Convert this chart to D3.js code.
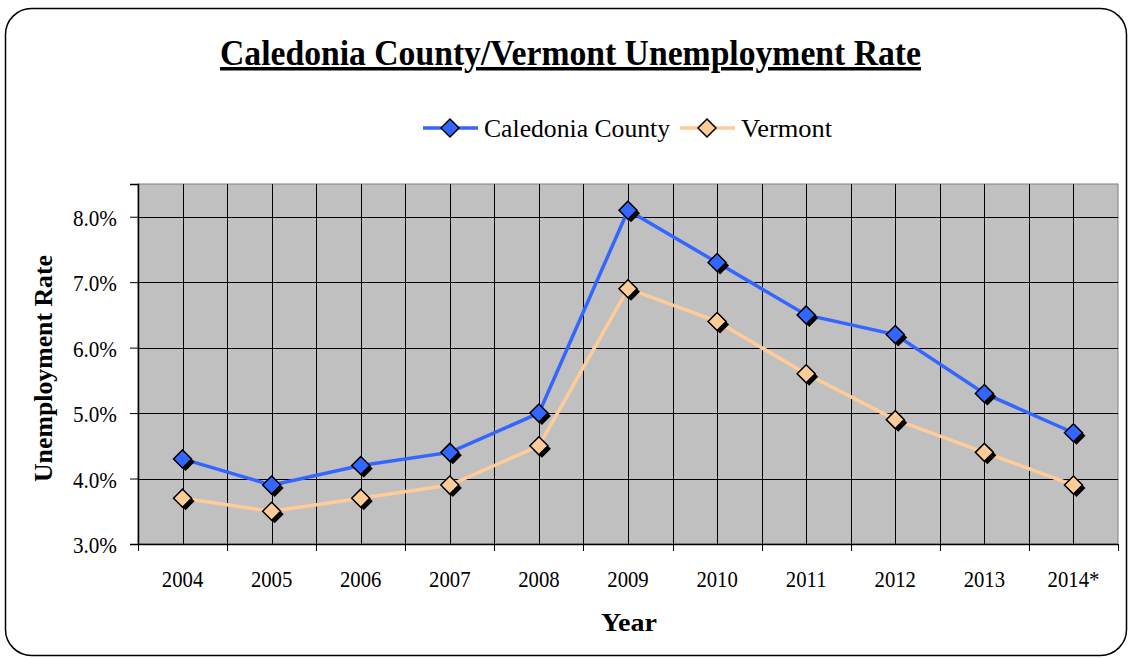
<!DOCTYPE html>
<html><head><meta charset="UTF-8">
<style>
  body { margin:0; background:#fff; }
  svg { display:block; }
  svg text { font-family: 'Liberation Serif', 'DejaVu Serif', serif; fill:#000; }
</style>
</head><body>
<svg id="chart" width="1130" height="659"></svg>
<script src="https://cdn.jsdelivr.net/npm/d3@7/dist/d3.min.js"></script>
<script>
const years = ['2004','2005','2006','2007','2008','2009','2010','2011','2012','2013','2014*'];
const caledonia = [4.3, 3.9, 4.2, 4.4, 5.0, 8.1, 7.3, 6.5, 6.2, 5.3, 4.7];
const vermont = [3.7, 3.5, 3.7, 3.9, 4.5, 6.9, 6.4, 5.6, 4.9, 4.4, 3.9];
const yTicks = [3, 4, 5, 6, 7, 8];

const series = [
  { name: 'Caledonia County', values: caledonia, color: '#3366ff' },
  { name: 'Vermont', values: vermont, color: '#ffcc99' }
];

const svg = d3.select('#chart');
const plot = { left: 138, right: 1118, top: 184, bottom: 544 };

// the source picture is a bit narrow horizontally -> squeeze horizontal text
function condense(sel, k) {
  sel.each(function () {
    const w = this.getComputedTextLength();
    d3.select(this).attr('textLength', w * k).attr('lengthAdjust', 'spacingAndGlyphs');
  });
}

// outer rounded frame
svg.append('rect')
  .attr('x', 5.5).attr('y', 8.5).attr('width', 1121).attr('height', 647)
  .attr('rx', 26).attr('fill', '#fff').attr('stroke', '#000').attr('stroke-width', 1.5);

const x = d3.scaleBand().domain(years).range([plot.left, plot.right]);
const y = d3.scaleLinear().domain([3, 8.5]).range([plot.bottom, plot.top]);
const cx = d => x(d) + x.bandwidth() / 2;

// plot area
svg.append('rect')
  .attr('x', plot.left).attr('y', plot.top)
  .attr('width', plot.right - plot.left).attr('height', plot.bottom - plot.top)
  .attr('fill', '#c0c0c0').attr('stroke', '#808080').attr('stroke-width', 1);

// vertical grid: category centres + boundaries
const g = svg.append('g').attr('stroke', '#000').attr('stroke-width', 1);
years.forEach((yr, i) => {
  const xs = [cx(yr)];
  if (i > 0) xs.push(x(yr));
  xs.forEach(v => g.append('line')
    .attr('x1', Math.round(v) + 0.5).attr('x2', Math.round(v) + 0.5)
    .attr('y1', plot.top).attr('y2', plot.bottom));
});
// horizontal grid
yTicks.forEach(t => g.append('line')
  .attr('x1', plot.left).attr('x2', plot.right)
  .attr('y1', Math.round(y(t)) + 0.5).attr('y2', Math.round(y(t)) + 0.5));

// y axis
const yAxis = svg.append('g')
  .attr('transform', `translate(${plot.left},0)`)
  .call(d3.axisLeft(y).tickValues(yTicks).tickSize(8).tickPadding(13).tickFormat(d => d.toFixed(1) + '%'));
yAxis.attr('font-family', null).attr('font-size', null);
yAxis.select('.domain').attr('stroke', '#000').attr('stroke-width', 1.5);
yAxis.selectAll('.tick line').attr('stroke', '#000');
yAxis.selectAll('text').attr('font-size', 23).attr('dy', '0.38em').attr('fill', '#000').call(condense, 0.92);

// x axis: ticks at category boundaries
const bounds = years.map(yr => x(yr)).concat([plot.right]);
const xg = svg.append('g');
xg.append('line').attr('x1', plot.left).attr('x2', plot.right)
  .attr('y1', plot.bottom + 0.5).attr('y2', plot.bottom + 0.5).attr('stroke', '#000').attr('stroke-width', 1.5);
bounds.forEach(b => xg.append('line')
  .attr('x1', Math.round(b) + 0.5).attr('x2', Math.round(b) + 0.5)
  .attr('y1', plot.bottom).attr('y2', plot.bottom + 7).attr('stroke', '#000'));
xg.selectAll('text.yr').data(years).join('text')
  .attr('class', 'yr')
  .attr('x', d => cx(d)).attr('y', 587)
  .attr('text-anchor', 'middle').attr('font-size', 23)
  .text(d => d)
  .call(condense, 0.9);

// lines + markers
const line = d3.line().x((d, i) => cx(years[i])).y(d => y(d));
const diamond = (px, py, r) => `M${px},${py - r}L${px + r},${py}L${px},${py + r}L${px - r},${py}Z`;

series.forEach(s => {
  svg.append('path').datum(s.values)
    .attr('d', line).attr('fill', 'none')
    .attr('stroke', s.color).attr('stroke-width', 3.5);
});
series.forEach(s => {
  const mk = svg.append('g');
  s.values.forEach((v, i) => {
    const px = cx(years[i]), py = y(v);
    mk.append('path').attr('d', diamond(px + 3, py + 3, 9)).attr('fill', '#000');
    mk.append('path').attr('d', diamond(px, py, 9))
      .attr('fill', s.color).attr('stroke', '#000').attr('stroke-width', 1.5);
  });
});

// title
svg.append('text')
  .attr('x', 570.5).attr('y', 65).attr('text-anchor', 'middle')
  .attr('font-size', 35).attr('font-weight', 'bold')
  .attr('text-decoration', 'underline')
  .attr('textLength', 701).attr('lengthAdjust', 'spacingAndGlyphs')
  .text('Caledonia County/Vermont Unemployment Rate');

// legend
const legendItems = [
  { s: series[0], x0: 423, w: 186 },
  { s: series[1], x0: 680, w: 91 }
];
legendItems.forEach(({ s, x0, w }) => {
  const lg = svg.append('g');
  lg.append('line').attr('x1', x0).attr('x2', x0 + 55).attr('y1', 128).attr('y2', 128)
    .attr('stroke', s.color).attr('stroke-width', 3.5);
  lg.append('path').attr('d', diamond(x0 + 27, 128, 9))
    .attr('fill', s.color).attr('stroke', '#000').attr('stroke-width', 1.5);
  lg.append('text').attr('x', x0 + 61).attr('y', 137)
    .attr('font-size', 26)
    .attr('textLength', w).attr('lengthAdjust', 'spacingAndGlyphs')
    .text(s.name);
});

// axis titles
svg.append('text')
  .attr('transform', 'translate(52,368.5) rotate(-90)')
  .attr('text-anchor', 'middle').attr('font-size', 25).attr('font-weight', 'bold')
  .attr('textLength', 227).attr('lengthAdjust', 'spacingAndGlyphs')
  .text('Unemployment Rate');
svg.append('text')
  .attr('x', 629).attr('y', 631).attr('text-anchor', 'middle')
  .attr('font-size', 25).attr('font-weight', 'bold')
  .attr('textLength', 56).attr('lengthAdjust', 'spacingAndGlyphs')
  .text('Year');
</script>
</body></html>
